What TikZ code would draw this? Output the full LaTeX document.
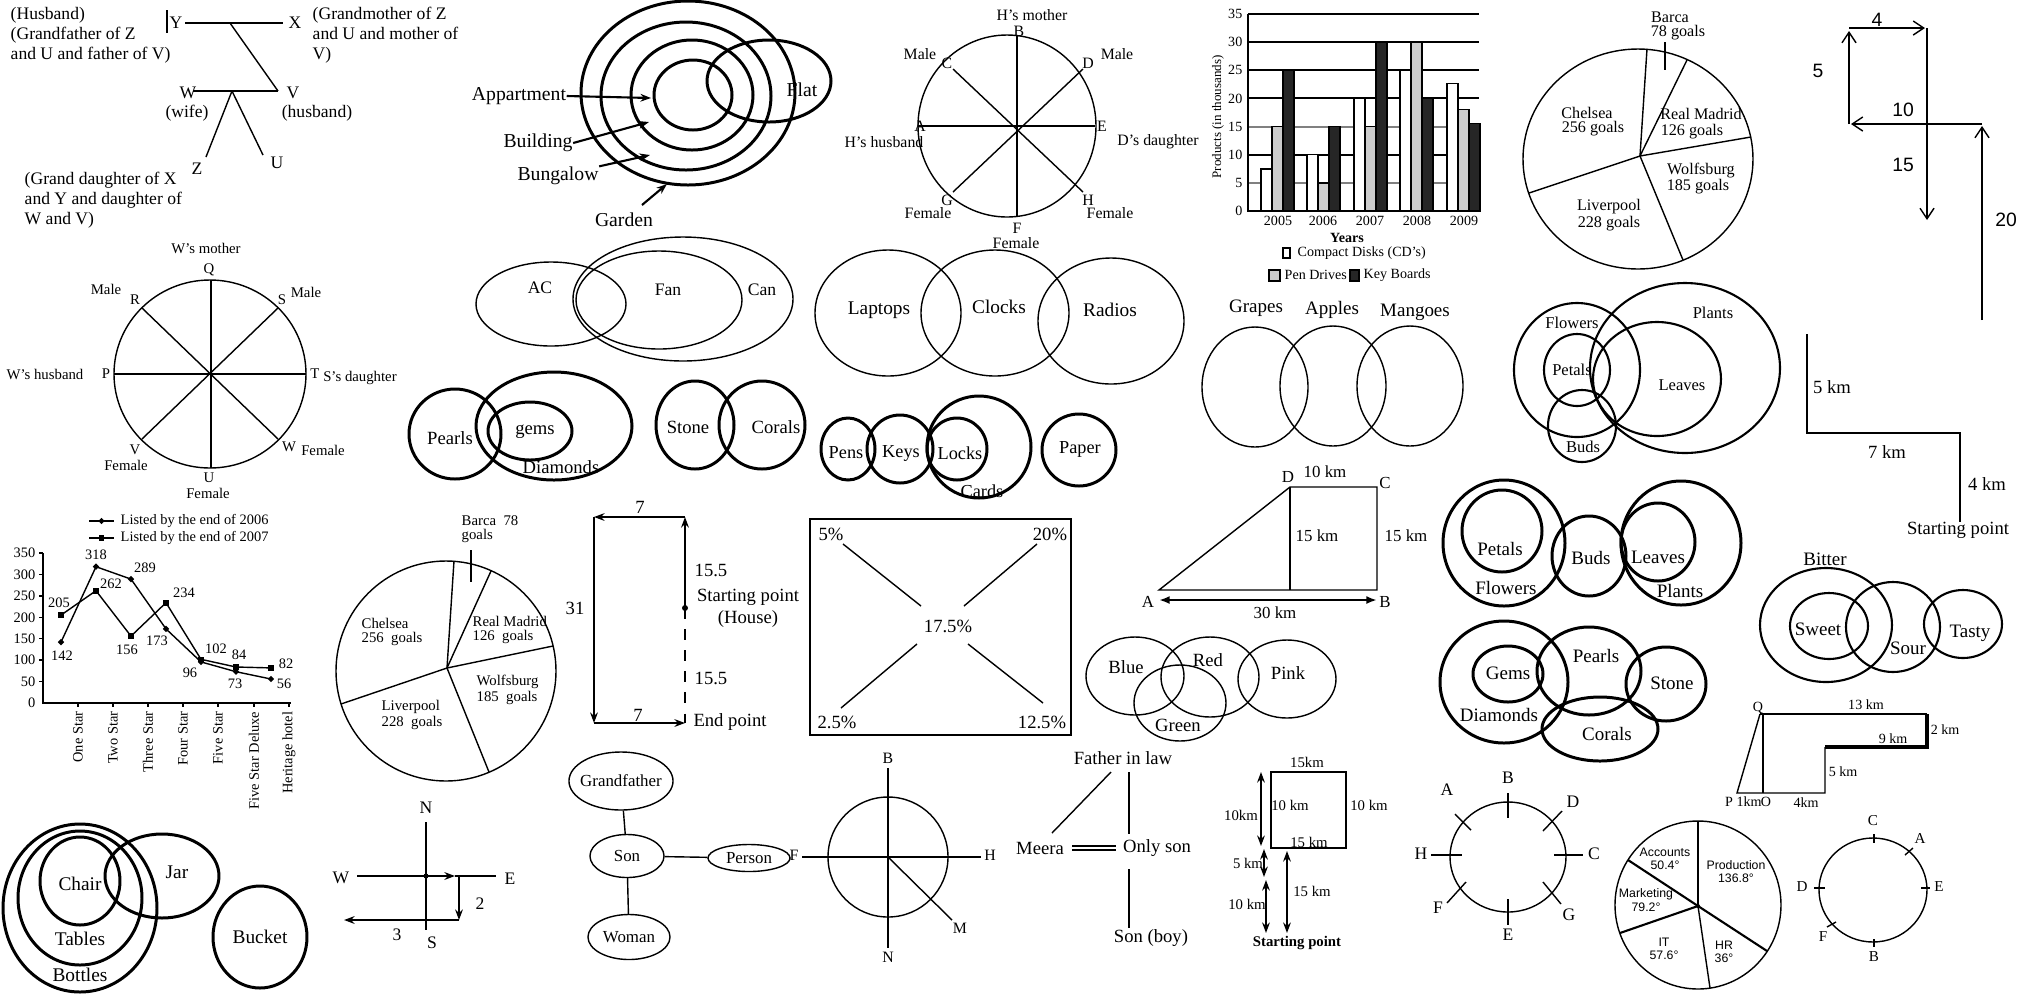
\documentclass[tikz,border=0pt]{standalone}
\usepackage{fontspec}
\setmainfont{Liberation Serif}
\setsansfont{Liberation Sans}
\usetikzlibrary{shapes.geometric,arrows.meta}
\begin{document}
\begin{tikzpicture}[x=0.01cm,y=-0.01cm,>={Stealth[length=3pt,width=2.2pt]},
  fs/.style={font=\fontsize{#1}{#1}\selectfont,inner sep=0pt},
  sfs/.style={font=\sffamily\fontsize{#1}{#1}\selectfont,inner sep=0pt},
  bold/.style={line width=0.85pt},
  mid/.style={line width=0.6pt},
  barb/.style={-{Straight Barb[length=3pt,width=4pt]}},
  oval/.style={draw,ellipse,inner sep=0pt,font=\fontsize{4.8}{4.8}\selectfont},
  dm/.style={diamond,fill,inner sep=0pt,minimum size=2pt},
  sq/.style={rectangle,fill,inner sep=0pt,minimum size=1.6pt}]
\useasboundingbox (0,0) rectangle (2023,999);

\node[fs=5,anchor=west,align=left] (hus) at (10,35) {(Husband)\\[0.7pt](Grandfather of Z\\[0.7pt]and U and father of V)};
\draw (167,10) -- (167,33);
\node[fs=5] (Y) at (176,23) {Y};
\node[fs=5] (X) at (295,23) {X};
\draw (185,23) -- (283,23);
\node[fs=5,anchor=west,align=left] (gmo) at (312,35) {(Grandmother of Z\\[0.7pt]and U and mother of\\[0.7pt]V)};
\draw (230,23) -- (278,91);
\node[fs=5] (W) at (188,93) {W};
\node[fs=5] (wife) at (187,113) {(wife)};
\node[fs=5] (V) at (293,93) {V};
\node[fs=5] (husb) at (317,113) {(husband)};
\draw (193,91) -- (278,91);
\draw (232,91) -- (206,157);
\draw (232,91) -- (263,155);
\node[fs=5] (Z) at (197,169) {Z};
\node[fs=5] (U) at (277,163) {U};
\node[fs=5,anchor=west,align=left] (gd) at (24,200) {(Grand daughter of X\\[0.7pt]and Y and daughter of\\[0.7pt]W and V)};

\draw[bold] (693,95) ellipse [x radius=39,y radius=35];
\draw[bold] (692,95) ellipse [x radius=61,y radius=55];
\draw[bold] (686,96) ellipse [x radius=85,y radius=74];
\draw[bold] (688,93) ellipse [x radius=107,y radius=92];
\draw[bold] (769,81) ellipse [x radius=62,y radius=41];
\node[fs=5.6] (flat) at (802,90) {Flat};
\node[fs=5.6] (app) at (519,96) {Appartment};
\draw[->,mid] (app.east) -- (651,98);
\node[fs=5.6] (bld) at (538,143) {Building};
\draw[->,mid] (bld.east) -- (649,122);
\node[fs=5.6] (bng) at (558,176) {Bungalow};
\draw[->,mid] (bng.north east) -- (650,155);
\node[fs=5.6] (gdn) at (624,220) {Garden};
\draw[->,mid] (642,205) -- (667,184);

\draw (1007,126) ellipse [x radius=89,y radius=91];
\draw (1017,35) -- (1017,217);
\draw (918,126) -- (1095,126);
\draw (953,69) -- (1083,192);
\draw (1083,69) -- (953,192);
\node[fs=4.5] at (1032,15) {H's mother};
\node[fs=4.5] at (1019,31) {B};
\node[fs=4.5] at (920,54) {Male};
\node[fs=4.5] at (947,63) {C};
\node[fs=4.5] at (1088,63) {D};
\node[fs=4.5] at (1117,54) {Male};
\node[fs=4.5] at (920,126) {A};
\node[fs=4.5] at (884,142) {H's husband};
\node[fs=4.5] at (1102,126) {E};
\node[fs=4.5] at (1158,142) {D's daughter};
\node[fs=4.5] at (947,200) {G};
\node[fs=4.5] at (928,213) {Female};
\node[fs=4.5] at (1088,200) {H};
\node[fs=4.5] at (1110,213) {Female};
\node[fs=4.5] at (1017,228) {F};
\node[fs=4.5] at (1016,243) {Female};

\draw[gray,mid] (1248,182.9) -- (1479,182.9);
\draw[gray,mid] (1248,126.6) -- (1479,126.6);
\draw[mid] (1248,154.7) -- (1479,154.7);
\draw[mid] (1248,98.4) -- (1479,98.4);
\draw[mid] (1248,70.3) -- (1479,70.3);
\draw[mid] (1248,42.1) -- (1479,42.1);
\draw[mid] (1248,14) -- (1479,14);
\filldraw[fill=white] (1261,211) rectangle (1272,168.8);
\filldraw[fill=black!20] (1272,211) rectangle (1283,126.6);
\filldraw[fill=black!85] (1283,211) rectangle (1294,70.3);
\filldraw[fill=white] (1307,211) rectangle (1318,154.7);
\filldraw[fill=black!20] (1318,211) rectangle (1329,182.9);
\filldraw[fill=black!85] (1329,211) rectangle (1340,126.6);
\filldraw[fill=white] (1354,211) rectangle (1365,98.4);
\filldraw[fill=black!20] (1365,211) rectangle (1376,126.6);
\filldraw[fill=black!85] (1376,211) rectangle (1387,42.1);
\filldraw[fill=white] (1400,211) rectangle (1411,70.3);
\filldraw[fill=black!20] (1411,211) rectangle (1422,42.1);
\filldraw[fill=black!85] (1422,211) rectangle (1433,98.4);
\filldraw[fill=white] (1447,211) rectangle (1458,83.2);
\filldraw[fill=black!20] (1458,211) rectangle (1469,109.7);
\filldraw[fill=black!85] (1469,211) rectangle (1480,123.7);
\draw[mid] (1248,14) -- (1248,211) -- (1480,211);
\node[fs=4,anchor=east] at (1243,211) {0};
\node[fs=4,anchor=east] at (1243,182.9) {5};
\node[fs=4,anchor=east] at (1243,154.7) {10};
\node[fs=4,anchor=east] at (1243,126.6) {15};
\node[fs=4,anchor=east] at (1243,98.4) {20};
\node[fs=4,anchor=east] at (1243,70.3) {25};
\node[fs=4,anchor=east] at (1243,42.1) {30};
\node[fs=4,anchor=east] at (1243,14) {35};
\node[fs=3.7,rotate=90] at (1218,117) {Products (in thousands)};
\node[fs=4] at (1278,221) {2005};
\node[fs=4] at (1323,221) {2006};
\node[fs=4] at (1370,221) {2007};
\node[fs=4] at (1417,221) {2008};
\node[fs=4] at (1464,221) {2009};
\node[fs=4,font=\bfseries\fontsize{4}{4}\selectfont] at (1347,238) {Years};
\draw (1283,248) rectangle (1290,258);
\node[fs=4,anchor=west] at (1297,253) {Compact Disks (CD's)};
\filldraw[fill=black!20] (1269,270) rectangle (1280,281);
\node[fs=4,anchor=west] at (1284,275) {Pen Drives};
\filldraw[fill=black!85] (1350,270) rectangle (1359,281);
\node[fs=4,anchor=west] at (1363,275) {Key Boards};

\draw (1638,159) ellipse [x radius=115,y radius=110];
\coordinate (pc1) at (1640,156);
\draw (pc1) -- (1647,49);
\draw (pc1) -- (1687,60);
\draw (pc1) -- (1751,137);
\draw (pc1) -- (1683,260);
\draw (pc1) -- (1529,193);
\draw (1665,42) -- (1665,70);
\node[fs=4.6] at (1670,17) {Barca};
\node[fs=4.6] at (1678,33) {78 goals};
\node[fs=4.6] at (1587,113) {Chelsea};
\node[fs=4.6] at (1593,129) {256 goals};
\node[fs=4.6] at (1701,114) {Real Madrid};
\node[fs=4.6] at (1692,132) {126 goals};
\node[fs=4.6] at (1701,171) {Wolfsburg};
\node[fs=4.6] at (1698,187) {185 goals};
\node[fs=4.6] at (1609,207) {Liverpool};
\node[fs=4.6] at (1609,224) {228 goals};

\draw[barb] (1982,320) -- (1982,126);
\draw[barb] (1982,124) -- (1851,124);
\draw[barb] (1849,124) -- (1849,31);
\draw[barb] (1849,28) -- (1925,28);
\draw[barb] (1927,28) -- (1927,220);
\node[sfs=5.5] at (1877,20) {4};
\node[sfs=5.5] at (1818,71) {5};
\node[sfs=5.5] at (1903,110) {10};
\node[sfs=5.5] at (1903,165) {15};
\node[sfs=5.5] at (2006,220) {20};

\draw (210,374) ellipse [x radius=96,y radius=94];
\draw (211,280) -- (211,468);
\draw (114,374) -- (306,374);
\draw (142,308) -- (278,439);
\draw (278,308) -- (142,439);
\node[fs=4.2] at (206,248) {W's mother};
\node[fs=4.2] at (209,270) {Q};
\node[fs=4.2] at (106,289) {Male};
\node[fs=4.2] at (135,300) {R};
\node[fs=4.2] at (282,300) {S};
\node[fs=4.2] at (306,292) {Male};
\node[fs=4.2] at (45,374) {W's husband};
\node[fs=4.2] at (106,374) {P};
\node[fs=4.2] at (315,374) {T};
\node[fs=4.2] at (360,378) {S's daughter};
\node[fs=4.2] at (135,450) {V};
\node[fs=4.2] at (126,465) {Female};
\node[fs=4.2] at (289,447) {W};
\node[fs=4.2] at (323,450) {Female};
\node[fs=4.2] at (209,478) {U};
\node[fs=4.2] at (208,493) {Female};

\draw (551,304) ellipse [x radius=75,y radius=42];
\draw (659,300) ellipse [x radius=83,y radius=49];
\draw (683,299) ellipse [x radius=110,y radius=62];
\node[fs=5] at (540,288) {AC};
\node[fs=5] at (668,290) {Fan};
\node[fs=5] at (762,290) {Can};

\draw[bold] (455,434) ellipse [x radius=46,y radius=45];
\draw[bold] (554,426) ellipse [x radius=78,y radius=54];
\draw[bold] (530,431) ellipse [x radius=42,y radius=29];
\node[fs=5.3] at (450,438) {Pearls};
\node[fs=5.3] at (535,432) {gems};
\node[fs=5.3] at (561,467) {Diamonds};
\draw[bold] (695,425) ellipse [x radius=39,y radius=44];
\draw[bold] (762,425) ellipse [x radius=43,y radius=44];
\node[fs=5.3] at (688,427) {Stone};
\node[fs=5.3] at (776,427) {Corals};

\draw (888,313) ellipse [x radius=73,y radius=63];
\draw (995,313) ellipse [x radius=74,y radius=63];
\draw (1111,321) ellipse [x radius=73,y radius=63];
\node[fs=5.5] at (879,310) {Laptops};
\node[fs=5.5] at (999,307) {Clocks};
\node[fs=5.5] at (1110,310) {Radios};

\draw[bold] (848,449) ellipse [x radius=27,y radius=31];
\draw[bold] (900,449) ellipse [x radius=33,y radius=34];
\draw[bold] (957,449) ellipse [x radius=30,y radius=31];
\draw[bold] (979,447) ellipse [x radius=52,y radius=51];
\draw[bold] (1079,450) ellipse [x radius=37,y radius=36];
\node[fs=5.2] at (846,453) {Pens};
\node[fs=5.2] at (901,453) {Keys};
\node[fs=5.2] at (960,453) {Locks};
\node[fs=5.2] at (982,491) {Cards};
\node[fs=5.2] at (1080,449) {Paper};

\draw (1255,387) ellipse [x radius=53,y radius=60];
\draw (1333,386) ellipse [x radius=53,y radius=60];
\draw (1410,386) ellipse [x radius=53,y radius=60];
\node[fs=5.4] at (1256,308) {Grapes};
\node[fs=5.4] at (1332,310) {Apples};
\node[fs=5.4] at (1415,312) {Mangoes};

\draw[mid] (1577,370) ellipse [x radius=63,y radius=67];
\draw[mid] (1685,368) ellipse [x radius=95,y radius=85];
\draw[mid] (1657,379) ellipse [x radius=64,y radius=57];
\draw[mid] (1577,370) ellipse [x radius=33,y radius=36];
\draw[mid] (1582,426) ellipse [x radius=34,y radius=36];
\node[fs=4.7] at (1572,323) {Flowers};
\node[fs=4.7] at (1713,313) {Plants};
\node[fs=4.7] at (1572,370) {Petals};
\node[fs=4.7] at (1682,385) {Leaves};
\node[fs=4.7] at (1583,447) {Buds};

\draw (1807,334) -- (1807,433) -- (1960,433) -- (1960,522);
\node[fs=5.3] at (1832,387) {5 km};
\node[fs=5.3] at (1887,452) {7 km};
\node[fs=5.3] at (1987,484) {4 km};
\node[fs=5.3] at (1958,530) {Starting point};

\draw (89,521) -- (114,521) node[pos=0.5,dm] {};
\node[fs=4.1,anchor=west] at (120,521) {Listed by the end of 2006};
\draw (89,538) -- (114,538) node[pos=0.5,sq] {};
\node[fs=4.1,anchor=west] at (120,538) {Listed by the end of 2007};
\draw (39,553) -- (43,553) (39,574.4) -- (43,574.4) (39,595.9) -- (43,595.9) (39,617.3) -- (43,617.3) (39,638.7) -- (43,638.7) (39,660.1) -- (43,660.1) (39,681.6) -- (43,681.6);
\draw (43,553) -- (43,703) -- (291,703);
\draw (78,703) -- (78,707) (113,703) -- (113,707) (148,703) -- (148,707) (183,703) -- (183,707) (218,703) -- (218,707) (254,703) -- (254,707) (289,703) -- (289,707);
\node[fs=4.1,anchor=east] at (36,553) {350};
\node[fs=4.1,anchor=east] at (36,574.4) {300};
\node[fs=4.1,anchor=east] at (36,595.9) {250};
\node[fs=4.1,anchor=east] at (36,617.3) {200};
\node[fs=4.1,anchor=east] at (36,638.7) {150};
\node[fs=4.1,anchor=east] at (36,660.1) {100};
\node[fs=4.1,anchor=east] at (36,681.6) {50};
\node[fs=4.1,anchor=east] at (36,703) {0};
\draw (61,642.1) node[dm] {} -- (96,566.7) node[dm] {} -- (131,579.1) node[dm] {} -- (166,628.9) node[dm] {} -- (201,661.9) node[dm] {} -- (236,671.7) node[dm] {} -- (271,679) node[dm] {};
\draw (61,615.1) node[sq] {} -- (96,590.7) node[sq] {} -- (131,636.1) node[sq] {} -- (166,602.7) node[sq] {} -- (201,659.3) node[sq] {} -- (236,667) node[sq] {} -- (271,667.9) node[sq] {};
\node[fs=4.1] at (59,603) {205};
\node[fs=4.1] at (62,656) {142};
\node[fs=4.1] at (96,555) {318};
\node[fs=4.1] at (111,584) {262};
\node[fs=4.1] at (145,568) {289};
\node[fs=4.1] at (127,650) {156};
\node[fs=4.1] at (157,641) {173};
\node[fs=4.1] at (184,593) {234};
\node[fs=4.1] at (190,673) {96};
\node[fs=4.1] at (216,649) {102};
\node[fs=4.1] at (239,655) {84};
\node[fs=4.1] at (235,684) {73};
\node[fs=4.1] at (286,664) {82};
\node[fs=4.1] at (284,684) {56};
\node[fs=4.1,rotate=90,anchor=east] at (78,711) {One Star};
\node[fs=4.1,rotate=90,anchor=east] at (113,711) {Two Star};
\node[fs=4.1,rotate=90,anchor=east] at (148,711) {Three Star};
\node[fs=4.1,rotate=90,anchor=east] at (183,711) {Four Star};
\node[fs=4.1,rotate=90,anchor=east] at (218,711) {Five Star};
\node[fs=4.1,rotate=90,anchor=east] at (254,711) {Five Star Deluxe};
\node[fs=4.1,rotate=90,anchor=east] at (289,711) {Heritage hotel};

\draw (446,671) ellipse [x radius=110,y radius=110];
\coordinate (pc2) at (447,668);
\draw (pc2) -- (454,561);
\draw (pc2) -- (491,571);
\draw (pc2) -- (553,646);
\draw (pc2) -- (489,772);
\draw (pc2) -- (341,704);
\draw (471,550) -- (471,582);
\node[fs=4.2,anchor=west] at (461,521) {Barca~~78};
\node[fs=4.2,anchor=west] at (461,536) {goals};
\node[fs=4.2,anchor=west] at (361,623) {Chelsea};
\node[fs=4.2,anchor=west] at (361,639) {256~ goals};
\node[fs=4.2,anchor=west] at (472,621) {Real Madrid};
\node[fs=4.2,anchor=west] at (472,637) {126~ goals};
\node[fs=4.2,anchor=west] at (476,682) {Wolfsburg};
\node[fs=4.2,anchor=west] at (476,698) {185~ goals};
\node[fs=4.2,anchor=west] at (381,707) {Liverpool};
\node[fs=4.2,anchor=west] at (381,723) {228~ goals};

\draw[->] (685,608) -- (685,517);
\draw[->] (685,517) -- (594,517);
\draw[->] (594,517) -- (594,723);
\draw[->] (594,723) -- (685,723);
\draw[dashed] (685,608) -- (685,723);
\fill (685,608) circle [radius=3];
\node[fs=5.3] at (640,507) {7};
\node[fs=5.3] at (575,608) {31};
\node[fs=5.3] at (711,570) {15.5};
\node[fs=5.3] at (748,597) {Starting point};
\node[fs=5.3] at (748,619) {(House)};
\node[fs=5.3] at (711,678) {15.5};
\node[fs=5.3] at (638,715) {7};
\node[fs=5.3] at (730,722) {End point};

\draw (810,519) rectangle (1071,735);
\draw (843,544) -- (921,606);
\draw (1037,544) -- (964,606);
\draw (917,644) -- (841,708);
\draw (968,644) -- (1043,703);
\node[fs=5.3] at (831,534) {5\%};
\node[fs=5.3] at (1050,534) {20\%};
\node[fs=5.3] at (948,626) {17.5\%};
\node[fs=5.3] at (837,722) {2.5\%};
\node[fs=5.3] at (1042,722) {12.5\%};

\draw (1159,590) -- (1290,487) -- (1377,487) -- (1377,590) -- cycle;
\draw (1290,487) -- (1290,590);
\draw[{Latex[length=3pt]}-{Latex[length=3pt]},line width=0.8pt] (1159,600) -- (1377,600);
\node[fs=4.8] at (1288,477) {D};
\node[fs=4.8] at (1325,472) {10 km};
\node[fs=4.8] at (1385,483) {C};
\node[fs=4.8] at (1317,536) {15 km};
\node[fs=4.8] at (1406,536) {15 km};
\node[fs=4.8] at (1148,602) {A};
\node[fs=4.8] at (1385,602) {B};
\node[fs=4.8] at (1275,613) {30 km};

\draw (1135,676) ellipse [x radius=49,y radius=39];
\draw (1210,677) ellipse [x radius=49,y radius=40];
\draw (1287,679) ellipse [x radius=49,y radius=39];
\draw (1180,703) ellipse [x radius=46,y radius=38];
\node[fs=5.3] at (1126,667) {Blue};
\node[fs=5.3] at (1208,660) {Red};
\node[fs=5.3] at (1288,673) {Pink};
\node[fs=5.3] at (1178,725) {Green};

\draw[bold] (1504,543) ellipse [x radius=61,y radius=63];
\draw[bold] (1502,531) ellipse [x radius=40,y radius=41];
\draw[bold] (1589,556) ellipse [x radius=37,y radius=40];
\draw[bold] (1681,543) ellipse [x radius=60,y radius=62];
\draw[bold] (1658,542) ellipse [x radius=37,y radius=39];
\node[fs=5.4] at (1500,549) {Petals};
\node[fs=5.4] at (1506,588) {Flowers};
\node[fs=5.4] at (1591,558) {Buds};
\node[fs=5.4] at (1658,557) {Leaves};
\node[fs=5.4] at (1680,591) {Plants};

\draw[bold] (1504,682) ellipse [x radius=64,y radius=61];
\draw[bold] (1508,674) ellipse [x radius=35,y radius=28];
\draw[bold] (1589,671) ellipse [x radius=52,y radius=44];
\draw[bold] (1666,684) ellipse [x radius=40,y radius=37];
\draw[bold] (1600,729) ellipse [x radius=58,y radius=32];
\node[fs=5.4] at (1508,673) {Gems};
\node[fs=5.4] at (1596,656) {Pearls};
\node[fs=5.4] at (1672,683) {Stone};
\node[fs=5.4] at (1499,715) {Diamonds};
\node[fs=5.4] at (1607,734) {Corals};

\draw[mid] (1826,625) ellipse [x radius=66,y radius=57];
\draw[mid] (1829,626) ellipse [x radius=39,y radius=33];
\draw[mid] (1893,627) ellipse [x radius=47,y radius=45];
\draw[mid] (1963,624) ellipse [x radius=39,y radius=34];
\node[fs=5.4] at (1825,559) {Bitter};
\node[fs=5.4] at (1818,629) {Sweet};
\node[fs=5.4] at (1908,648) {Sour};
\node[fs=5.4] at (1970,633) {Tasty};

\draw (1760,714) -- (1927,714);
\draw[line width=0.9pt] (1927,714) -- (1927,747) -- (1825,747);
\draw (1825,747) -- (1825,793) -- (1737,793) -- (1760,714);
\draw (1763,714) -- (1763,793);
\node[fs=4] at (1758,708) {Q};
\node[fs=4] at (1866,705) {13 km};
\node[fs=4] at (1945,730) {2 km};
\node[fs=4] at (1893,739) {9 km};
\node[fs=4] at (1843,772) {5 km};
\node[fs=4] at (1729,802) {P};
\node[fs=4] at (1749,802) {1km};
\node[fs=4] at (1766,802) {O};
\node[fs=4] at (1806,803) {4km};

\draw[bold] (80,908) ellipse [x radius=77,y radius=84];
\draw[bold] (80,898) ellipse [x radius=62,y radius=67];
\draw[bold] (80,881) ellipse [x radius=40,y radius=44];
\draw[bold] (162,876) ellipse [x radius=57,y radius=42];
\draw[bold] (260,937) ellipse [x radius=47,y radius=51];
\node[fs=5.5] at (80,884) {Chair};
\node[fs=5.5] at (177,872) {Jar};
\node[fs=5.5] at (80,939) {Tables};
\node[fs=5.5] at (80,975) {Bottles};
\node[fs=5.5] at (260,937) {Bucket};

\draw (426,822) -- (426,930);
\draw[->,mid] (357,876) -- (455,876);
\draw[mid] (455,876) -- (496,876);
\fill (426,876) circle [radius=2.5];
\draw[->] (459,876) -- (459,920);
\draw[->,mid] (459,920) -- (344,920);
\node[fs=5] at (426,808) {N};
\node[fs=5] at (341,878) {W};
\node[fs=5] at (510,879) {E};
\node[fs=5] at (480,904) {2};
\node[fs=5] at (397,935) {3};
\node[fs=5] at (432,943) {S};

\node[oval,inner xsep=-3pt,minimum width=1.04cm,minimum height=0.58cm] (gf) at (621,781) {Grandfather};
\node[oval,minimum width=0.74cm,minimum height=0.43cm] (son) at (627,856) {Son};
\node[oval,minimum width=0.82cm,minimum height=0.27cm] (per) at (749,858) {Person};
\node[oval,minimum width=0.82cm,minimum height=0.45cm] (wom) at (629,937) {Woman};
\draw (gf) -- (son);
\draw (son) -- (per);
\draw (son) -- (wom);

\draw (888,857) ellipse [x radius=60,y radius=60];
\draw (888,768) -- (888,948);
\draw (802,857) -- (981,857);
\draw (888,857) -- (952,920);
\node[fs=4.5] at (888,758) {B};
\node[fs=4.5] at (794,855) {F};
\node[fs=4.5] at (990,855) {H};
\node[fs=4.5] at (960,928) {M};
\node[fs=4.5] at (888,957) {N};

\node[fs=5.3] (fil) at (1123,758) {Father in law};
\draw (1111,772) -- (1052,833);
\draw (1129,772) -- (1129,834);
\node[fs=5.3] (meera) at (1040,848) {Meera};
\node[fs=5.3] (oson) at (1157,848) {Only son};
\draw (1072,846) -- (1116,846);
\draw (1072,850) -- (1116,850);
\draw (1129,869) -- (1129,928);
\node[fs=5.3] (sboy) at (1151,938) {Son (boy)};

\draw (1271,848) -- (1271,772) -- (1346,772) -- (1346,848) -- cycle;
\draw[<->] (1261,772) -- (1261,846);
\draw[<->] (1264,849) -- (1264,877);
\draw[<->] (1266,880) -- (1266,933);
\draw[<->] (1287,851) -- (1287,933);
\node[fs=4.2] at (1307,762) {15km};
\node[fs=4.2] at (1290,805) {10 km};
\node[fs=4.2] at (1369,805) {10 km};
\node[fs=4.2] at (1309,842) {15 km};
\node[fs=4.2] at (1241,815) {10km};
\node[fs=4.2] at (1248,863) {5 km};
\node[fs=4.2] at (1247,904) {10 km};
\node[fs=4.2] at (1312,891) {15 km};
\node[fs=4.2,font=\bfseries\fontsize{4.2}{4.2}\selectfont] at (1297,943) {Starting point};

\draw (1508,857) ellipse [x radius=58,y radius=55];
\draw (1508,793) -- (1508,818);
\draw (1508,899) -- (1508,925);
\draw (1431,855) -- (1462,855);
\draw (1554,855) -- (1583,855);
\draw (1455,814) -- (1471,830);
\draw (1562,811) -- (1543,831);
\draw (1466,882) -- (1447,903);
\draw (1543,882) -- (1561,904);
\node[fs=5] at (1508,778) {B};
\node[fs=5] at (1447,790) {A};
\node[fs=5] at (1573,802) {D};
\node[fs=5] at (1421,854) {H};
\node[fs=5] at (1594,854) {C};
\node[fs=5] at (1438,908) {F};
\node[fs=5] at (1569,915) {G};
\node[fs=5] at (1508,935) {E};

\draw (1698,905) ellipse [x radius=83,y radius=84];
\coordinate (pc3) at (1698,906);
\draw (pc3) -- (1698,821);
\draw[mid] (pc3) -- (1628,860);
\draw[mid] (pc3) -- (1620,933);
\draw (pc3) -- (1710,988);
\draw[mid] (pc3) -- (1767,951);
\fill (pc3) circle [radius=2];
\node[sfs=3.5] at (1665,852) {Accounts};
\node[sfs=3.5] at (1665,865) {50.4°};
\node[sfs=3.5] at (1736,865) {Production};
\node[sfs=3.5] at (1736,878) {136.8°};
\node[sfs=3.5] at (1646,894) {Marketing};
\node[sfs=3.5] at (1646,907) {79.2°};
\node[sfs=3.5] at (1664,942) {IT};
\node[sfs=3.5] at (1664,955) {57.6°};
\node[sfs=3.5] at (1724,945) {HR};
\node[sfs=3.5] at (1724,958) {36°};

\draw (1873,890) ellipse [x radius=54,y radius=52];
\draw (1874,834) -- (1874,843);
\draw (1874,939) -- (1874,947);
\draw (1814,888) -- (1825,888);
\draw (1921,888) -- (1930,888);
\draw (1905,855) -- (1913,848);
\draw (1827,927) -- (1836,922);
\node[fs=4.3] at (1873,821) {C};
\node[fs=4.3] at (1920,838) {A};
\node[fs=4.3] at (1802,887) {D};
\node[fs=4.3] at (1939,887) {E};
\node[fs=4.3] at (1823,937) {F};
\node[fs=4.3] at (1874,957) {B};
\end{tikzpicture}
\end{document}
